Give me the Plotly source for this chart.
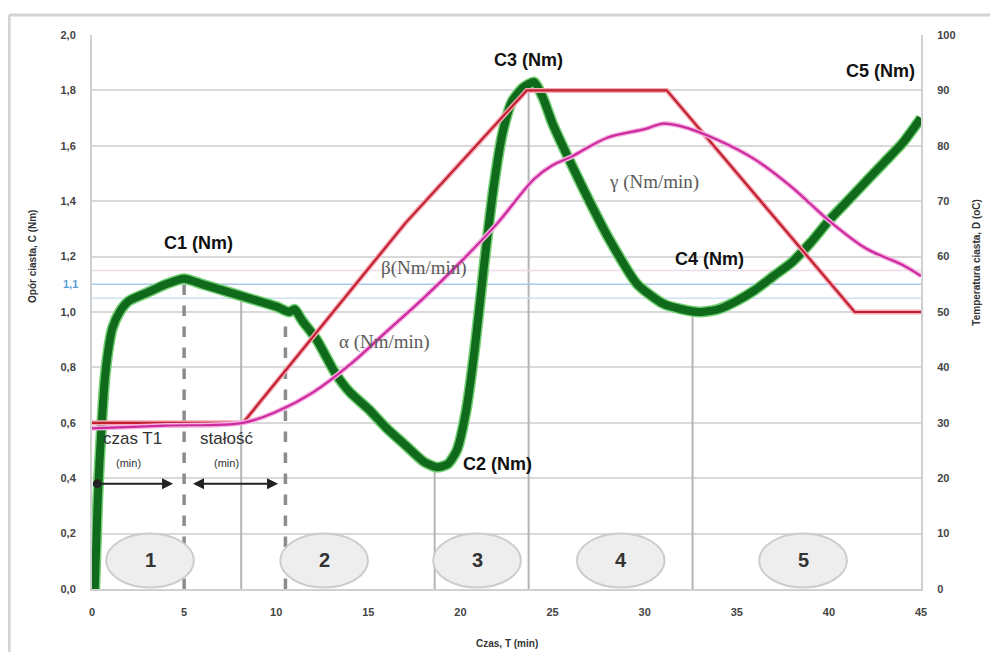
import plotly.graph_objects as go

# ---- data ----
torque_t = [0.15, 0.3, 0.4, 0.55, 0.7, 0.9, 1.1, 1.5, 2.0, 3.0, 4.0, 5.0, 6.0, 7.0, 8.0, 9.0, 10.0,
            10.7, 11.0, 11.4, 12.2, 13.2, 14.0, 15.0, 16.0, 17.0, 18.0, 18.7, 19.3, 19.8, 20.3,
            20.8, 21.3, 21.8, 22.3, 22.8, 23.4, 24.0, 24.5, 25.0, 25.9, 27.0, 28.1, 29.6, 31.0,
            32.0, 33.0, 34.0, 35.0, 36.0, 37.0, 38.0, 39.0, 40.0, 41.0, 42.0, 43.0, 44.0, 45.0]
torque_c = [0.0, 0.3, 0.45, 0.62, 0.76, 0.87, 0.94, 1.00, 1.04, 1.07, 1.10, 1.12, 1.10, 1.08, 1.06, 1.04, 1.02,
            1.00, 1.01, 0.97, 0.90, 0.78, 0.71, 0.65, 0.58, 0.52, 0.46, 0.44, 0.45, 0.50, 0.64,
            0.88, 1.18, 1.45, 1.65, 1.76, 1.81, 1.83, 1.77, 1.68, 1.55, 1.40, 1.26, 1.10, 1.03,
            1.01, 1.00, 1.01, 1.04, 1.08, 1.13, 1.18, 1.25, 1.33, 1.40, 1.47, 1.54, 1.61, 1.70]

target_t = [0, 8.2, 17.0, 23.6, 31.2, 41.4, 45]
target_temp = [30, 30, 66, 90, 90, 50, 50]

dough_t = [0, 4, 8.2, 10, 12, 14, 16, 18, 20, 22, 24, 25, 26, 28, 30, 31, 32, 34, 36, 38, 39, 40, 42, 44, 45]
dough_temp = [29, 29.5, 30, 32, 35.5, 40.5, 46.5, 52.5, 59, 66, 74, 76.5, 78, 81.5, 83, 84, 83.5, 81,
              77.5, 72.5, 69.5, 66.5, 61.5, 58.5, 56.5]

# vertical reference lines: time, top torque value, dashed?
ref_t = [5.0, 8.1, 10.5, 18.6, 23.7, 32.6]
ref_top = [1.12, 1.05, 1.01, 0.44, 1.83, 1.0]
ref_dashed = [True, False, True, False, False, False]

band_levels = [1.05, 1.1, 1.15]

peak_labels = ["C1 (Nm)", "C2 (Nm)", "C3 (Nm)", "C4 (Nm)", "C5 (Nm)"]
peak_t = [5.8, 22.0, 23.7, 33.5, 42.8]
peak_c = [1.25, 0.45, 1.91, 1.19, 1.87]

phase_labels = ["1", "2", "3", "4", "5"]
phase_t = [3.15, 12.6, 20.9, 28.7, 38.6]

left_ticks = [0, 0.2, 0.4, 0.6, 0.8, 1.0, 1.2, 1.4, 1.6, 1.8, 2.0]

fig = go.Figure()

# reference lines
for t, top, dashed in zip(ref_t, ref_top, ref_dashed):
    fig.add_trace(go.Scatter(
        x=[t, t], y=[0, top], mode="lines", hoverinfo="skip",
        line=dict(color="#8c8c8c" if dashed else "#b4b4b4", width=3.5 if dashed else 2,
                  dash="dash" if dashed else "solid")))

for lv, col in zip(band_levels, ["#cfe2f2", "#a9cbe8", "#eadcea"]):
    fig.add_trace(go.Scatter(x=[0, 45], y=[lv, lv], mode="lines", hoverinfo="skip",
                             line=dict(color=col, width=1.5)))

# temperature lines (right axis)
fig.add_trace(go.Scatter(x=target_t, y=target_temp, yaxis="y2", mode="lines",
                         line=dict(color="#f3a9b6", width=5), hoverinfo="skip"))
fig.add_trace(go.Scatter(x=target_t, y=target_temp, yaxis="y2", mode="lines",
                         line=dict(color="#c3202f", width=2.2)))
fig.add_trace(go.Scatter(x=dough_t, y=dough_temp, yaxis="y2", mode="lines", line_shape="spline",
                         line=dict(color="#f4b3e0", width=5), hoverinfo="skip"))
fig.add_trace(go.Scatter(x=dough_t, y=dough_temp, yaxis="y2", mode="lines", line_shape="spline",
                         line=dict(color="#cc2a9e", width=2.2)))

# torque curve
fig.add_trace(go.Scatter(x=torque_t, y=torque_c, mode="lines", line_shape="spline",
                         line=dict(color="#74cf74", width=11, smoothing=0.6), hoverinfo="skip"))
fig.add_trace(go.Scatter(x=torque_t, y=torque_c, mode="lines", line_shape="spline",
                         line=dict(color="#0f6a1c", width=8, smoothing=0.6)))

anns = []
for lab, t, c in zip(peak_labels, peak_t, peak_c):
    anns.append(dict(x=t, y=c, xref="x", yref="y", text="<b>" + lab + "</b>", showarrow=False,
                     font=dict(family="Liberation Sans", size=18, color="#111111")))

greek = [("β(Nm/min)", 18.0, 1.16), ("α (Nm/min)", 15.9, 0.89), ("γ (Nm/min)", 30.5, 1.47)]
for txt, t, c in greek:
    anns.append(dict(x=t, y=c, xref="x", yref="y", text=txt, showarrow=False,
                     font=dict(family="Liberation Serif", size=19, color="#5a5a5a")))

for txt, t, c, sz in [("czas T1", 2.2, 0.545, 17), ("(min)", 2.0, 0.455, 11),
                      ("stałość", 7.3, 0.545, 17), ("(min)", 7.3, 0.455, 11)]:
    anns.append(dict(x=t, y=c, xref="x", yref="y", text=txt, showarrow=False,
                     font=dict(family="Liberation Sans", size=sz, color="#333333")))

# arrows
anns.append(dict(x=4.4, y=0.38, ax=0.2, ay=0.38, xref="x", yref="y", axref="x", ayref="y",
                 showarrow=True, arrowhead=2, arrowside="end+start", startarrowhead=6,
                 arrowsize=1, startarrowsize=1, arrowwidth=2.2, arrowcolor="#222222", text=""))
anns.append(dict(x=10.1, y=0.38, ax=5.4, ay=0.38, xref="x", yref="y", axref="x", ayref="y",
                 showarrow=True, arrowhead=2, arrowside="end+start", startarrowhead=2,
                 arrowsize=1, startarrowsize=1, arrowwidth=2.2, arrowcolor="#222222", text=""))

shapes = []
for lab, t in zip(phase_labels, phase_t):
    shapes.append(dict(type="circle", xref="x", yref="y", x0=t - 2.38, x1=t + 2.38,
                       y0=0.005, y1=0.2, fillcolor="#eeeeee",
                       line=dict(color="#cccccc", width=2), layer="above"))
    anns.append(dict(x=t, y=0.105, xref="x", yref="y", text="<b>" + lab + "</b>", showarrow=False,
                     font=dict(family="Liberation Sans", size=20, color="#333333")))

# "1,1" label
anns.append(dict(x=0, y=1.1, xref="paper", yref="y", xanchor="right", text="<b>1,1</b>",
                 xshift=-12, showarrow=False, font=dict(family="Liberation Sans", size=11, color="#5b9bd5")))

# axis titles
anns.append(dict(x=0.5, y=-0.085, xref="paper", yref="paper", text="<b>Czas, T (min)</b>",
                 showarrow=False, yanchor="top",
                 font=dict(family="Liberation Sans", size=10, color="#333333")))
anns.append(dict(x=-0.081, y=0.6, xref="paper", yref="paper", text="<b>Opór ciasta, C (Nm)</b>",
                 showarrow=False, textangle=-90,
                 font=dict(family="Liberation Sans", size=10, color="#333333")))
anns.append(dict(x=1.076, y=0.59, xref="paper", yref="paper", text="<b>Temperatura ciasta, D (oC)</b>",
                 showarrow=False, textangle=-90,
                 font=dict(family="Liberation Sans", size=10, color="#333333")))

# outer frame (top and left edges)
shapes.append(dict(type="line", xref="paper", yref="paper", x0=-0.1, x1=1.1, y0=1.036, y1=1.036,
                   line=dict(color="#d4d4d4", width=3), layer="below"))
shapes.append(dict(type="line", xref="paper", yref="paper", x0=-0.1, x1=-0.1, y0=-0.12, y1=1.036,
                   line=dict(color="#d4d4d4", width=3), layer="below"))

tickfont = dict(family="Liberation Sans", size=11, color="#444444", weight="bold")

fig.update_layout(
    width=982, height=644,
    margin=dict(l=84, r=69, t=27, b=63, autoexpand=False),
    paper_bgcolor="white", plot_bgcolor="white",
    separators=", ",
    showlegend=False,
    annotations=anns, shapes=shapes,
    xaxis=dict(range=[0, 45], tickvals=[0, 5, 10, 15, 20, 25, 30, 35, 40, 45], showgrid=False,
               zeroline=False, showline=True, linecolor="#d0d0d0", linewidth=2, automargin=False,
               tickfont=tickfont, ticklabelstandoff=12, mirror=False),
    yaxis=dict(range=[0, 2.0], tickvals=left_ticks, tickformat=".1f", showgrid=True,
               gridcolor="#d9d9d9", gridwidth=2, zeroline=False, showline=True, automargin=False,
               linecolor="#d0d0d0", linewidth=2, tickfont=tickfont, ticklabelstandoff=12),
    yaxis2=dict(range=[0, 100], dtick=10, overlaying="y", side="right", showgrid=False,
                zeroline=False, showline=True, linecolor="#d0d0d0", linewidth=2, automargin=False,
                tickfont=tickfont, ticklabelstandoff=12),
)

fig.write_html("out.html")
